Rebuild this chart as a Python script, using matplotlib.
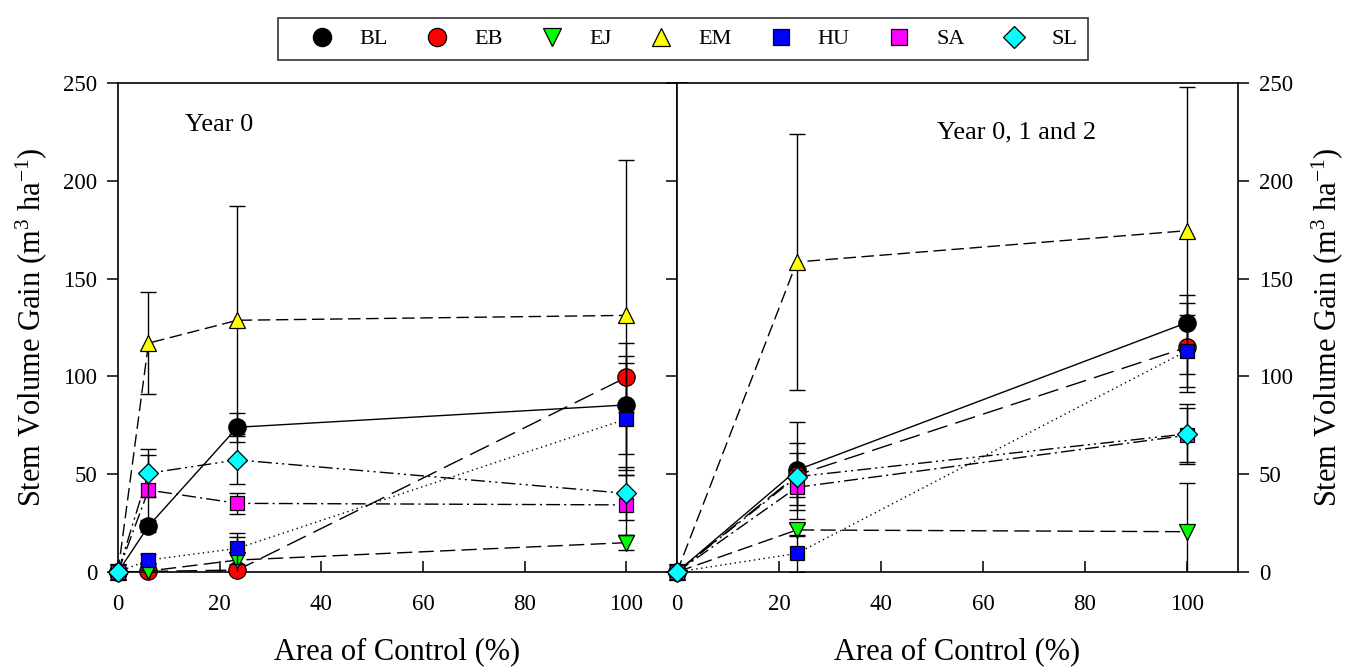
import matplotlib
matplotlib.use('Agg')
import matplotlib.pyplot as plt
from matplotlib.lines import Line2D

plt.rcParams['font.family'] = ['Liberation Serif', 'DejaVu Serif']
plt.rcParams['mathtext.fontset'] = 'custom'
plt.rcParams['mathtext.rm'] = 'Liberation Serif'
plt.rcParams['mathtext.it'] = 'Liberation Serif:italic'

# ---- data ----
species = ['BL', 'EB', 'EJ', 'EM', 'HU', 'SA', 'SL']

# panel 1: Year 0
area_y0 = [0, 6, 23.5, 100]
bl_y0 = [0, 23.5, 74.0, 85.4]
eb_y0 = [0, 0.3, 1.0, 99.5]
ej_y0 = [0, 0.5, 6.1, 15.0]
em_y0 = [0, 117.0, 128.7, 131.2]
hu_y0 = [0, 6.1, 12.1, 78.2]
sa_y0 = [0, 41.9, 35.1, 34.3]
sl_y0 = [0, 50.5, 57.3, 40.2]

bl_y0_err = [0, 3, 7.5, 25]
eb_y0_err = [0, 0, 1, 17.7]
ej_y0_err = [0, 0.5, 12, 3.9]
em_y0_err = [0, 26, 58.3, 79.3]
hu_y0_err = [0, 3, 8, 28.6]
sa_y0_err = [0, 18, 5.5, 15.3]
sl_y0_err = [0, 12.2, 12.2, 13.6]

# panel 2: Year 0, 1 and 2
area_y012 = [0, 23.5, 100]
bl_y012 = [0, 52.1, 127.5]
eb_y012 = [0, 49.5, 114.9]
ej_y012 = [0, 21.5, 20.6]
em_y012 = [0, 158.5, 174.5]
hu_y012 = [0, 9.5, 113.1]
sa_y012 = [0, 43.3, 69.9]
sl_y012 = [0, 48.7, 70.6]

bl_y012_err = [0, 24.8, 14.1]
eb_y012_err = [0, 11.2, 22.8]
ej_y012_err = [0, 3, 25.1]
em_y012_err = [0, 65.5, 73.5]
hu_y012_err = [0, 9.5, 18.4]
sa_y012_err = [0, 9, 13.8]
sl_y012_err = [0, 17.1, 15.3]

# ---- styles ----
colors = ['black', '#ff0000', '#00ff00', '#ffff00', '#0000ff', '#ff00ff', '#00ffff']
markers = ['o', 'o', 'v', '^', 's', 's', 'D']
msizes = [12.5, 12.5, 12, 12, 10.5, 10.5, 10.5]
dashes = [(None, None), (15, 6), (11, 4.5), (9, 4), (1, 2.5),
          (10, 3, 1.5, 3), (10, 3, 1.5, 3, 1.5, 3)]

fs_tick = 16.5
fs_label = 22

fig = plt.figure(figsize=(13.6, 6.71), dpi=100)
ax1 = fig.add_axes([118 / 1360, 99 / 671, 559 / 1360, 489 / 671])
ax2 = fig.add_axes([677 / 1360, 99 / 671, 561 / 1360, 489 / 671])

panels = [
    (ax1, area_y0,
     [bl_y0, eb_y0, ej_y0, em_y0, hu_y0, sa_y0, sl_y0],
     [bl_y0_err, eb_y0_err, ej_y0_err, em_y0_err, hu_y0_err, sa_y0_err, sl_y0_err]),
    (ax2, area_y012,
     [bl_y012, eb_y012, ej_y012, em_y012, hu_y012, sa_y012, sl_y012],
     [bl_y012_err, eb_y012_err, ej_y012_err, em_y012_err, hu_y012_err, sa_y012_err, sl_y012_err]),
]

for ax, xs, series, errs in panels:
    for i, (ys, es) in enumerate(zip(series, errs)):
        ln, = ax.plot(xs, ys, color='black', lw=1.0, zorder=2)
        if dashes[i][0] is not None:
            ln.set_dashes(dashes[i])
        ax.errorbar(xs, ys, yerr=es, fmt='none', ecolor='black',
                    elinewidth=1.0, capsize=6, capthick=1.0, zorder=3 + i)
        ax.plot(xs, ys, linestyle='none', marker=markers[i], ms=msizes[i],
                mfc=colors[i], mec='black', mew=0.9, zorder=3.5 + i,
                clip_on=False)

    ax.set_xlim(0, 110)
    ax.set_ylim(0, 250)
    ax.set_xticks([0, 20, 40, 60, 80, 100])
    ax.set_yticks([0, 50, 100, 150, 200, 250])
    ax.tick_params(axis='x', direction='in', length=8, width=1.1,
                   labelsize=fs_tick, pad=16, top=False)
    ax.tick_params(axis='y', direction='out', length=8, width=1.1,
                   labelsize=fs_tick, pad=7)
    for sp in ax.spines.values():
        sp.set_linewidth(1.2)
    ax.set_xlabel('Area of Control (%)', fontsize=fs_label, labelpad=16)

ylab = 'Stem Volume Gain (m$^{3}$ ha$^{-1}$)'
ax1.tick_params(axis='y', left=True, right=True, labelleft=True, labelright=False)
ax1.set_ylabel(ylab, fontsize=fs_label, labelpad=10)

ax2.tick_params(axis='y', left=True, right=True, labelleft=False, labelright=True)
ax2.yaxis.set_label_position('right')
ax2.set_ylabel(ylab, fontsize=fs_label, labelpad=12, rotation=90)

ax1.text(13.2, 225.6, 'Year 0', fontsize=19, ha='left', va='baseline')
ax2.text(51, 221.7, 'Year 0, 1 and 2', fontsize=19, ha='left', va='baseline')

handles = [Line2D([], [], linestyle='none', marker=markers[i], ms=msizes[i] * 1.05,
                  mfc=colors[i], mec='black', mew=0.9) for i in range(len(species))]
leg = fig.legend(handles, species, loc='center', ncol=7,
                 bbox_to_anchor=(683 / 1360, 1 - 39 / 671),
                 fontsize=16, frameon=True, fancybox=False, edgecolor='black',
                 handlelength=3.0, handletextpad=0.17, columnspacing=0.72,
                 borderpad=0.5)
leg.get_frame().set_linewidth(1.2)

fig.savefig('out.png', dpi=100)
